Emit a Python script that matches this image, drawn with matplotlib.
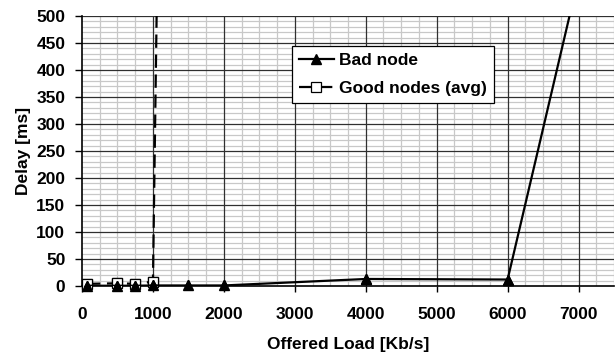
import numpy as np
import matplotlib.pyplot as plt
from matplotlib.ticker import MultipleLocator

plt.rcParams['font.family'] = ['Liberation Sans', 'DejaVu Sans']
plt.rcParams['font.weight'] = 'bold'

# Данные
bad_x = [70, 500, 750, 1000, 1500, 2000, 4000, 6000, 8000]
bad_y = [0.5, 0.5, 0.5, 1, 1, 1, 13, 12, 1130]
good_x = [70, 500, 750, 1000, 1500]
good_y = [4, 5, 4, 8, 4750]

fig = plt.figure(figsize=(6.16, 3.53), dpi=100)
ax = fig.add_axes([82 / 616, 1 - 286 / 353, 532 / 616, 270 / 353])

good_style = dict(color='k', marker='s', markersize=7.5, markerfacecolor='white',
                  markeredgecolor='k', markeredgewidth=0.9)
bad_style = dict(color='k', marker='^', markersize=7.5)

ax.plot(good_x, good_y, linestyle=(0, (6, 3)), linewidth=1.6,
        label='Good nodes (avg)', zorder=3, **good_style)
ax.plot(bad_x, bad_y, linestyle='-', linewidth=1.6, label='Bad node',
        zorder=4, **bad_style)

# маркеры у нуля не обрезаются осью
gx = [x for x, y in zip(good_x, good_y) if y <= 500]
gy = [y for y in good_y if y <= 500]
bx = [x for x, y in zip(bad_x, bad_y) if y <= 500 and x <= 7500]
by = [y for x, y in zip(bad_x, bad_y) if y <= 500 and x <= 7500]
ax.plot(gx, gy, linestyle='none', zorder=3.5, clip_on=False, **good_style)
ax.plot(bx, by, linestyle='none', zorder=4.5, clip_on=False, **bad_style)

ax.set_xlim(0, 7500)
ax.set_ylim(0, 500)
ax.xaxis.set_major_locator(MultipleLocator(1000))
ax.xaxis.set_minor_locator(MultipleLocator(250))
ax.yaxis.set_major_locator(MultipleLocator(50))
ax.yaxis.set_minor_locator(MultipleLocator(10))

# сетка: мелкая снизу, основная поверх
ax.grid(which='minor', color='#c8c8c8', linewidth=0.9, zorder=0)
for xv in np.arange(1000, 7500, 1000):
    ax.axvline(xv, color='#303030', linewidth=0.9, zorder=1)
for yv in np.arange(50, 501, 50):
    ax.axhline(yv, color='#303030', linewidth=0.9, zorder=1)
ax.set_axisbelow(True)

for s in ['top', 'right']:
    ax.spines[s].set_visible(False)
ax.spines['left'].set_linewidth(1.2)
ax.spines['bottom'].set_linewidth(1.2)

ax.tick_params(which='major', direction='out', length=4, width=1,
               labelsize=12.5, pad=11)
ax.tick_params(axis='y', which='major', length=5, pad=7)
ax.tick_params(which='minor', length=0)

ax.set_xlabel('Offered Load [Kb/s]', fontsize=12.5, fontweight='bold', labelpad=11)
ax.set_ylabel('Delay [ms]', fontsize=12.5, fontweight='bold', labelpad=4)

handles, labels = ax.get_legend_handles_labels()
leg = ax.legend(handles[::-1], labels[::-1], loc='upper left',
                bbox_to_anchor=(210 / 532, 240 / 270), borderaxespad=0,
                fontsize=12.5, frameon=True, fancybox=False, edgecolor='black',
                framealpha=1, handlelength=2.0, handletextpad=0.3,
                borderpad=0.4, labelspacing=0.75)
leg.get_frame().set_linewidth(0.9)

plt.savefig('out.png', dpi=100)
